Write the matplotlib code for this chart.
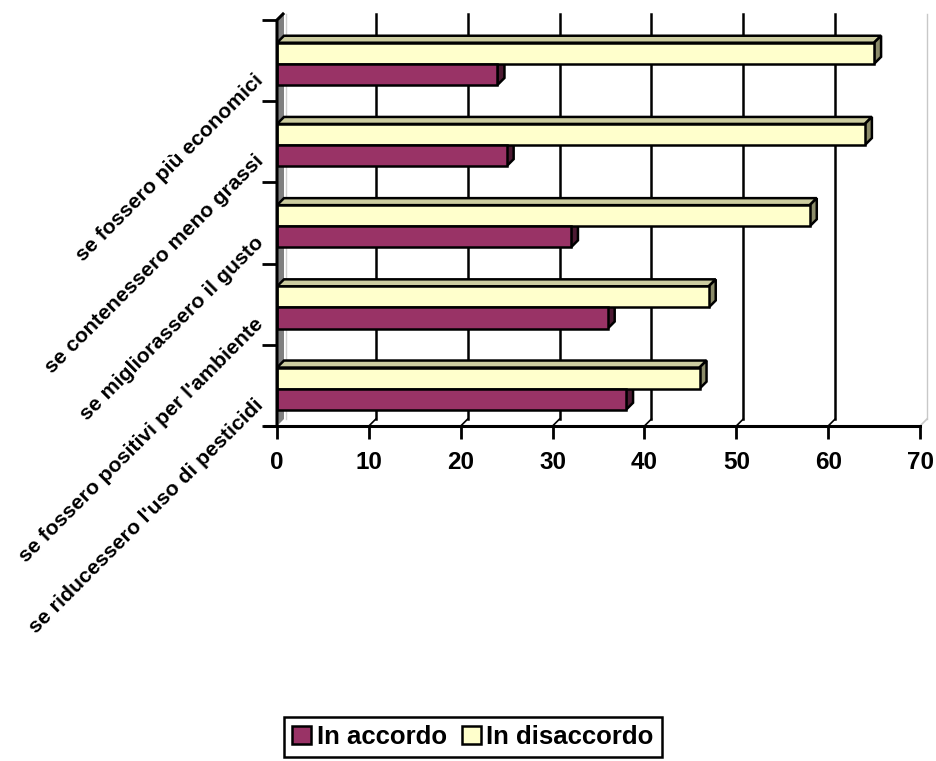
import matplotlib
matplotlib.use("Agg")
import matplotlib.pyplot as plt
from matplotlib.patches import Polygon, Patch
import numpy as np

plt.rcParams['font.family'] = ['Liberation Sans', 'DejaVu Sans']
plt.rcParams['font.weight'] = 'bold'

categories = ["se fossero più economici", "se contenessero meno grassi",
              "se migliorassero il gusto", "se fossero positivi per l'ambiente",
              "se riducessero l'uso di pesticidi"]
in_accordo = [24, 25, 32, 36, 38]
in_disaccordo = [65, 64, 58, 47, 46]
series_names = ["In accordo", "In disaccordo"]
xticks = [0, 10, 20, 30, 40, 50, 60, 70]

W, H = 936, 761
fig = plt.figure(figsize=(W / 100, H / 100), dpi=100)
L, R, T, B = 277, 920, 20, 426
ax = fig.add_axes([L / W, 1 - B / H, (R - L) / W, (B - T) / H])
ax.set_xlim(0, 70)
ax.set_ylim(len(categories) - 0.5, -0.5)
ax.set_facecolor('none')
for s in ax.spines.values():
    s.set_visible(False)

def fx(px):
    return px / W
def fy(py):
    return 1 - py / H

fig.canvas.draw()
inv = ax.transData.inverted()

# back-wall grid lines (shifted for depth)
depth = 7
for xv in xticks[1:]:
    px = ax.transData.transform((xv, 0))[0] + depth
    col = 'black' if xv < 70 else '#c8c8c8'
    lw = 1.8 if xv < 70 else 1.0
    fig.add_artist(plt.Line2D([px / W, px / W], [fy(14), fy(B - depth)], color=col, lw=lw,
                              transform=fig.transFigure, zorder=-1))
    fig.add_artist(plt.Line2D([(px - depth) / W, px / W], [fy(B), fy(B - depth)], color=col, lw=1.2,
                              transform=fig.transFigure, zorder=-1))

front_cols = {"acc": "#993366", "dis": "#FFFFCC"}
top_cols = {"acc": "#7a2952", "dis": "#CCCCA0"}
side_cols = {"acc": "#4d1a33", "dis": "#8c8c6a"}

h = 0.26
ypos = np.arange(len(categories))
y_dis = ypos - 0.09
y_acc = ypos + 0.17

dx, dy = 7, 7

def add3d(x0, x1, yc, key):
    ytop = yc - h / 2
    ybot = yc + h / 2
    ax.add_patch(Polygon([(x0, ytop), (x1, ytop), (x1, ybot), (x0, ybot)], closed=True,
                         facecolor=front_cols[key], edgecolor='black', lw=1.8, zorder=3))
    def off(x, y):
        p = ax.transData.transform((x, y))
        return tuple(inv.transform((p[0] + dx, p[1] + dy)))
    ax.add_patch(Polygon([(x0, ytop), (x1, ytop), off(x1, ytop), off(x0, ytop)], closed=True,
                         facecolor=top_cols[key], edgecolor='black', lw=1.8, zorder=2))
    ax.add_patch(Polygon([(x1, ytop), off(x1, ytop), off(x1, ybot), (x1, ybot)], closed=True,
                         facecolor=side_cols[key], edgecolor='black', lw=1.8, zorder=2))

for i in range(len(categories)):
    add3d(0, in_disaccordo[i], y_dis[i], "dis")
    add3d(0, in_accordo[i], y_acc[i], "acc")

# left wall
fig.add_artist(Polygon([(fx(277), fy(20)), (fx(284), fy(13)), (fx(284), fy(B - 7)), (fx(277), fy(B))],
                       closed=True, facecolor='#808080', edgecolor='none',
                       transform=fig.transFigure, zorder=1))
fig.add_artist(plt.Line2D([fx(286), fx(286)], [fy(14), fy(B - 7)], color='#d0d0d0', lw=1.0,
                          transform=fig.transFigure, zorder=1))
fig.add_artist(plt.Line2D([fx(277), fx(277), fx(283)], [fy(B), fy(20), fy(14)], color='black', lw=2.2,
                          transform=fig.transFigure, zorder=4))
fig.add_artist(plt.Line2D([fx(265), fx(920)], [fy(B), fy(B)], color='black', lw=2.2,
                          transform=fig.transFigure, zorder=4))
ax.set_zorder(2)

ax.set_xticks(xticks)
ax.set_xticklabels([str(v) for v in xticks], fontsize=17.5, fontweight='bold')
ax.tick_params(axis='x', length=9, width=2, pad=9, direction='out')
ax.set_yticks(np.arange(-0.5, len(categories), 1.0))
ax.set_yticklabels([])
ax.tick_params(axis='y', length=11, width=2, pad=2)

for i, c in enumerate(categories):
    ax.annotate(c, xy=(0, i), xycoords='data', xytext=(-12, -12), textcoords='offset points',
                rotation=45, rotation_mode='anchor', ha='right', va='center',
                fontsize=15.3, fontweight='bold')

handles = [Patch(facecolor=front_cols["acc"], edgecolor='black', lw=1.8),
           Patch(facecolor=front_cols["dis"], edgecolor='black', lw=1.8)]
leg = fig.legend(handles, series_names, loc='center', bbox_to_anchor=(473 / W, 1 - 737 / H),
                 ncol=2, fancybox=False, framealpha=1, edgecolor='black',
                 prop={'size': 18.5, 'weight': 'bold'}, handlelength=0.75, handleheight=0.75,
                 handletextpad=0.2, columnspacing=0.6, borderpad=0.3)
leg.get_frame().set_linewidth(1.8)

fig.savefig("out.png", dpi=100)
